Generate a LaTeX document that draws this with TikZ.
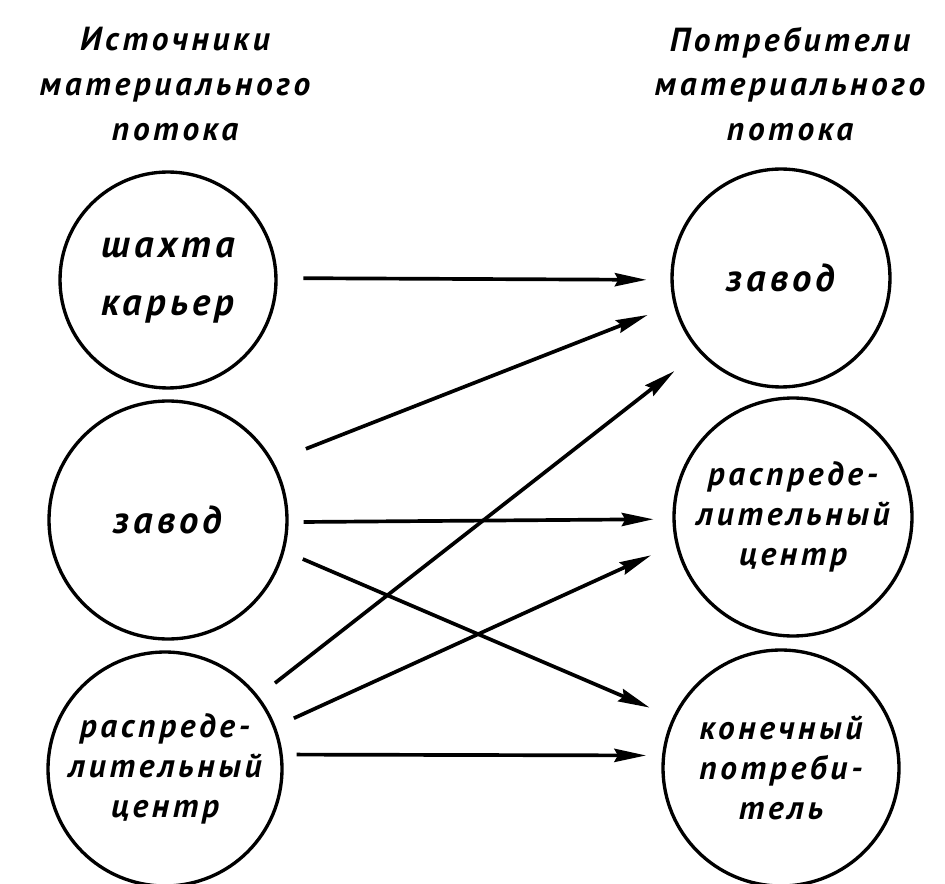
\documentclass[tikz,border=0pt]{standalone}
\usepackage{fontspec}
\setmainfont[LetterSpace=11]{PT Sans}
\usepackage{tikz}
\usetikzlibrary{arrows.meta}

\begin{document}
\begin{tikzpicture}
	[x=0.02cm,y=-0.02cm,
	 head/.style={font=\fontsize{19}{25.5}\selectfont\bfseries\itshape,align=center},
	 place/.style={circle,draw,line width=1.9pt,inner sep=0pt,font=\fontsize{19}{22.7}\selectfont\bfseries\itshape,align=center},
	 bigtext/.style={font=\fontsize{22}{33}\selectfont\bfseries\itshape},
	 flow/.style={line width=2.1pt,-{Stealth[length=18pt,width=7.5pt,inset=2pt]}}]

	\useasboundingbox (0,0) rectangle (945,884);

	% headings
	\node[head] (srchead) at (175,84) {Источники\\материального\\потока};
	\node[head] (dsthead) at (790,84) {Потребители\\материального\\потока};

	% sources
	\node[place,bigtext,align=left,minimum size=4.32cm] (mine) at (168,280) {шахта\\карьер};
	\node[place,bigtext,minimum size=4.76cm] (srcplant) at (168,520) {завод};
	\node[place,minimum size=4.68cm] (srchub) at (165,769) {распреде-\\лительный\\центр};

	% consumers
	\node[place,bigtext,minimum size=4.36cm] (dstplant) at (781,278) {завод};
	\node[place,minimum size=4.76cm] (dsthub) at (793,517) {распреде-\\лительный\\центр};
	\node[place,minimum size=4.72cm] (enduser) at (781,768) {конечный\\потреби-\\тель};

	% flows
	\foreach \from/\a/\s/\to/\b/\t in {mine/1/14.7/dstplant/181/13.6,
		srcplant/29/19.8/dstplant/194/15.9,
		srchub/38/11.9/dstplant/222/17.6,
		srcplant/359/8.5/dsthub/181/10.8,
		srcplant/345/11.3/enduser/155/14.2,
		srchub/21/11.3/dsthub/193/15.3,
		srchub/7/7.9/enduser/174/9.1}
	\draw[flow,shorten <=\s pt,shorten >=\t pt] (\from.\a) -- (\to.\b);
\end{tikzpicture}
\end{document}
